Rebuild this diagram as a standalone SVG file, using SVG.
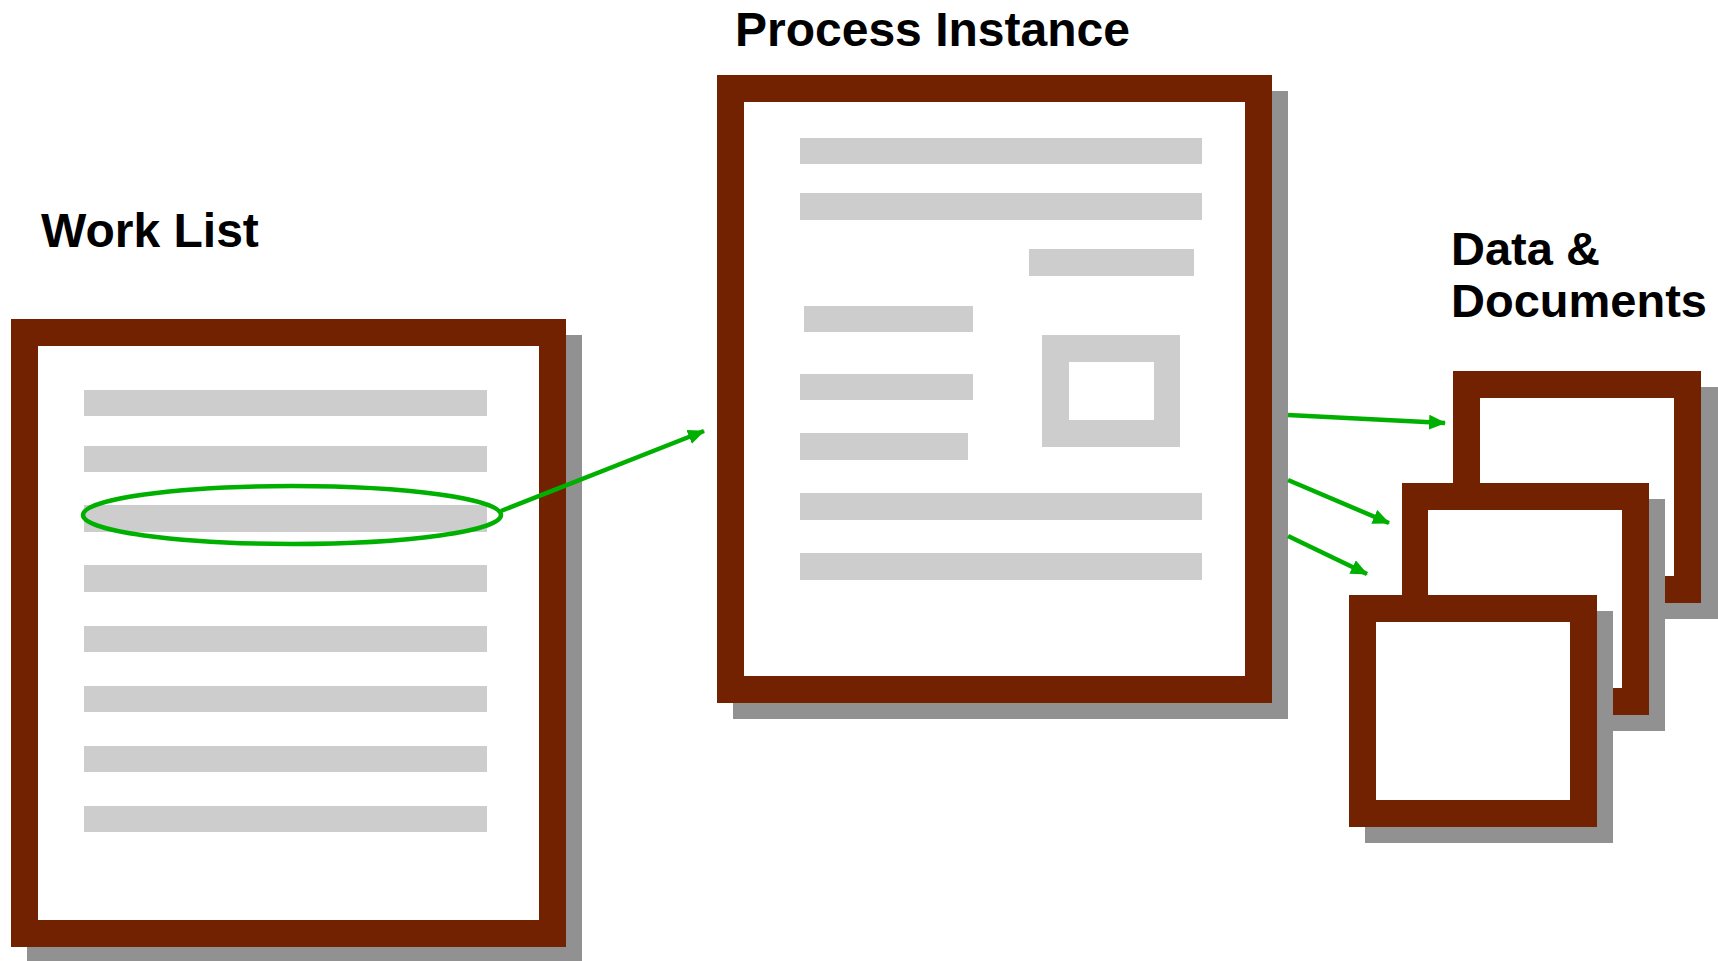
<svg xmlns="http://www.w3.org/2000/svg" width="1718" height="961" viewBox="0 0 1718 961">
  <style>
    .shadow { fill: #919191; }
    .frame { fill: #722200; }
    .page { fill: #ffffff; }
    .bar { fill: #cdcdcd; }
    .title { font-family: "Liberation Sans", Arial, sans-serif; font-weight: bold; font-size: 48px; fill: #000000; }
    .title-sm { font-size: 47px; }
    .link { stroke: #00b000; stroke-width: 4.5; fill: none; }
  </style>
  <defs>
    <marker id="arrow" viewBox="0 0 17 15" refX="16" refY="7.5" markerWidth="17" markerHeight="15" markerUnits="userSpaceOnUse" orient="auto">
      <path d="M0,0 L17,7.5 L0,15 z" fill="#00b000"/>
    </marker>
  </defs>
  <rect width="1718" height="961" fill="#ffffff"/>

  <!-- Work List -->
  <g id="work-list">
    <text class="title" x="41" y="247">Work List</text>
    <rect class="shadow" x="27" y="335" width="555" height="628"/>
    <rect class="frame" x="11" y="319" width="555" height="628"/>
    <rect class="page" x="38" y="346" width="501" height="574"/>
    <rect class="bar" x="84" y="390" width="403" height="26"/>
    <rect class="bar" x="84" y="446" width="403" height="26"/>
    <rect class="bar" x="84" y="505" width="403" height="27"/>
    <rect class="bar" x="84" y="565" width="403" height="27"/>
    <rect class="bar" x="84" y="626" width="403" height="26"/>
    <rect class="bar" x="84" y="686" width="403" height="26"/>
    <rect class="bar" x="84" y="746" width="403" height="26"/>
    <rect class="bar" x="84" y="806" width="403" height="26"/>
  </g>

  <!-- Process Instance -->
  <g id="process-instance">
    <text class="title" x="735" y="46">Process Instance</text>
    <rect class="shadow" x="733" y="91" width="555" height="628"/>
    <rect class="frame" x="717" y="75" width="555" height="628"/>
    <rect class="page" x="744" y="102" width="501" height="574"/>
    <rect class="bar" x="800" y="138" width="402" height="26"/>
    <rect class="bar" x="800" y="193" width="402" height="27"/>
    <rect class="bar" x="1029" y="249" width="165" height="27"/>
    <rect class="bar" x="804" y="306" width="169" height="26"/>
    <rect class="bar" x="800" y="374" width="173" height="26"/>
    <rect class="bar" x="800" y="433" width="168" height="27"/>
    <rect class="bar" x="800" y="493" width="402" height="27"/>
    <rect class="bar" x="800" y="553" width="402" height="27"/>
    <rect class="bar" x="1042" y="335" width="138" height="112"/>
    <rect class="page" x="1069" y="362" width="85" height="58"/>
  </g>

  <!-- Data & Documents -->
  <g id="data-documents">
    <text class="title title-sm" x="1451" y="265">Data &amp;</text>
    <text class="title title-sm" x="1451" y="317">Documents</text>
    <g id="doc-back">
      <rect class="shadow" x="1469" y="387" width="249" height="232"/>
      <rect class="frame" x="1453" y="371" width="248" height="232"/>
      <rect class="page" x="1480" y="398" width="194" height="178"/>
    </g>
    <g id="doc-middle">
      <rect class="shadow" x="1418" y="499" width="247" height="232"/>
      <rect class="frame" x="1402" y="483" width="247" height="232"/>
      <rect class="page" x="1428" y="510" width="194" height="178"/>
    </g>
    <g id="doc-front">
      <rect class="shadow" x="1365" y="611" width="248" height="232"/>
      <rect class="frame" x="1349" y="595" width="248" height="232"/>
      <rect class="page" x="1376" y="622" width="194" height="178"/>
    </g>
  </g>

  <!-- Connectors -->
  <g id="connectors">
    <ellipse class="link" cx="292" cy="515" rx="209" ry="29"/>
    <line class="link" x1="501" y1="511" x2="704" y2="431" marker-end="url(#arrow)"/>
    <line class="link" x1="1288" y1="415" x2="1445" y2="423" marker-end="url(#arrow)"/>
    <line class="link" x1="1288" y1="480" x2="1389" y2="523" marker-end="url(#arrow)"/>
    <line class="link" x1="1288" y1="536" x2="1367" y2="574" marker-end="url(#arrow)"/>
  </g>
</svg>
